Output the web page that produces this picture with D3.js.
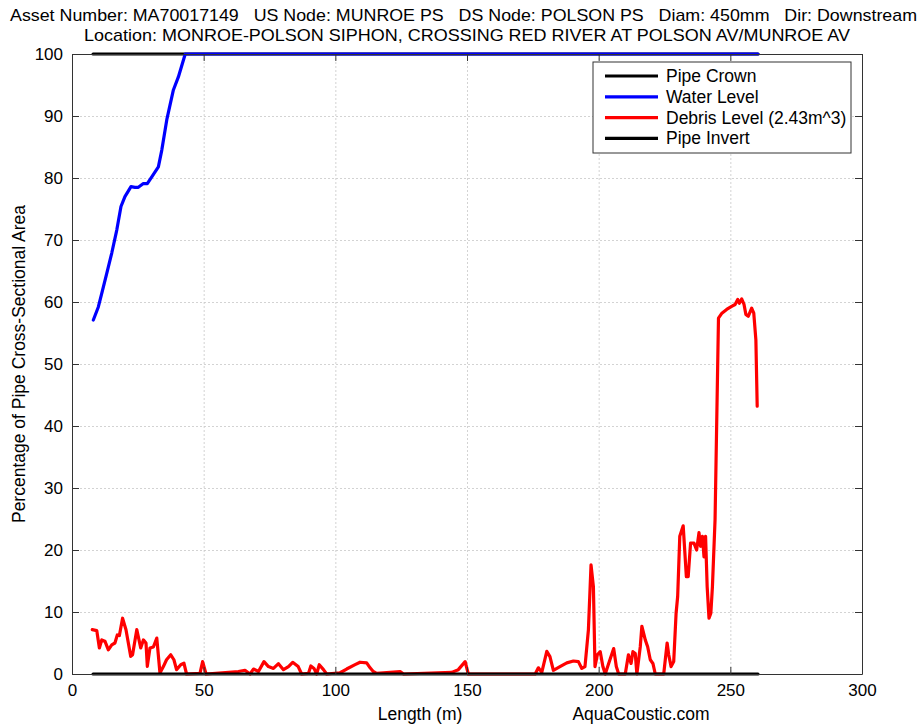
<!DOCTYPE html>
<html>
<head>
<meta charset="utf-8">
<script src="https://cdn.jsdelivr.net/npm/d3@7"></script>
<style>
  body { margin: 0; background: #fff; }
  svg text { font-family: "Liberation Sans", Arial, sans-serif; fill: #000; white-space: pre; }
  .grid line { stroke: #c8c8c8; stroke-dasharray: 2,2; stroke-width: 0.8; }
  .grid path { display: none; }
  .axis path, .axis line { stroke: #333; }
</style>
</head>
<body>
<div id="chart"></div>
<script>
var W = 923, H = 727;
var margin = {top: 54, right: 61, bottom: 53, left: 72};
var w = W - margin.left - margin.right;
var h = H - margin.top - margin.bottom;

var titleLines = ["Asset Number: MA70017149   US Node: MUNROE PS   DS Node: POLSON PS   Diam: 450mm   Dir: Downstream",
                  "Location: MONROE-POLSON SIPHON, CROSSING RED RIVER AT POLSON AV/MUNROE AV"];
var xTicks = [0, 50, 100, 150, 200, 250, 300];
var yTicks = [0, 10, 20, 30, 40, 50, 60, 70, 80, 90, 100];

// pipe extent
var pipeLength = [8, 260.5];
var pipeCrown = [100, 100];
var pipeInvert = [0, 0];

// water level
var waterLength = [8.1, 10, 11.3, 13.2, 15.1, 17, 18.6, 20.1, 22.4, 23.9, 25.2, 27.1, 28.6, 30.3, 32.8, 34.1, 36, 38.5, 40.4, 43, 260.5];
var waterLevel  = [57.1, 59.2, 61.4, 64.6, 67.9, 71.6, 75.4, 77, 78.6, 78.5, 78.5, 79.1, 79.1, 80.2, 81.8, 84.5, 89.4, 94.2, 96.3, 100, 100];

// debris level
var debrisLength = [7.7, 9.4, 10.4, 11.3, 12.5, 13.8, 15.1, 16.3, 17.2, 18.0, 19.2, 20.5, 22.3, 23.0, 24.6, 26.1, 27.1, 28.1, 28.6, 29.6,
  30.9, 32.2, 33.4, 34.7, 35.9, 37.5, 38.7, 39.7, 41.3, 42.5, 43.5, 48.6, 49.6, 50.9, 63.2, 65.7, 67.6, 68.9, 70.8, 72.9,
  74.6, 76.5, 78.4, 80.3, 82.2, 83.8, 85.9, 87.2, 89.8, 90.7, 91.9, 92.9, 93.9, 95.5, 96.7, 101.8, 104.3, 107.5, 109.4, 111.9,
  113.2, 114.4, 115.7, 124.6, 125.9, 144.2, 146.7, 149.3, 150.5, 175.9, 177.1, 178.4, 180.3, 181.5, 182.8, 185.3, 187.9, 190.4, 192.3, 193.6,
  194.8, 196.1, 197.1, 198.0, 198.6, 199.5, 200.6, 201.6, 202.5, 203.8, 205.7, 206.7, 207.6, 210.1, 211.3, 212.3, 213.0, 213.9, 214.5, 215.8,
  216.4, 217.7, 218.6, 219.6, 220.6, 221.5, 224.7, 226.0, 226.6, 227.5, 228.5, 229.4, 230.0, 230.8, 232.1, 233.3, 234.0, 234.9, 236.2, 237.2,
  238.1, 238.7, 239.4, 240.0, 240.6, 241.2, 241.9, 242.6, 243.2, 244.2, 245.5, 246.8, 248.6, 250.5, 251.8, 252.8, 253.4, 254.3, 255.2, 255.9,
  256.8, 258.1, 258.9, 259.7, 260.2];
var debrisLevel = [7.15, 7.0, 4.2, 5.5, 5.3, 3.9, 4.7, 5.0, 6.3, 6.2, 9.0, 7.15, 2.84, 3.1, 7.15, 4.2, 5.5, 5.0, 1.23, 4.2,
  4.35, 5.8, 0.16, 1.2, 2.3, 3.1, 2.3, 0.7, 1.5, 1.76, 0, 0.1, 2.0, 0, 0.4, 0.6, 0, 0.8, 0.4, 2.0,
  1.2, 0.9, 1.66, 0.7, 1.2, 1.88, 1.2, 0, 0.1, 1.3, 0.9, 0, 1.5, 0.7, 0, 0.2, 0.8, 1.5, 1.9, 1.8,
  1.0, 0.4, 0.1, 0.4, 0, 0.26, 0.7, 2.0, 0, 0, 1.0, 0.26, 3.65, 2.8, 0.6, 1.2, 1.8, 2.1, 2.0, 0.9,
  1.2, 7.1, 17.6, 14.1, 1.2, 3.1, 3.6, 1.2, 0, 1.7, 4.1, 1.2, 0, 0, 3.1, 1.7, 3.6, 3.3, 0, 4.4,
  7.7, 5.5, 4.4, 2.3, 1.7, 0, 0, 5.0, 3.1, 1.2, 2.0, 9.8, 12.5, 22.2, 23.9, 15.7, 15.7, 21.1, 21.1, 20.0,
  22.8, 20.6, 22.2, 18.9, 22.2, 14.1, 9.0, 9.8, 14.1, 24.9, 57.4, 58.2, 58.8, 59.3, 59.6, 60.4, 59.8, 60.5, 59.6, 58.0,
  57.7, 59.0, 58.2, 53.9, 43.2];

var legendNames = ["Pipe Crown", "Water Level", "Debris Level (2.43m^3)", "Pipe Invert"];
var legendColors = ["#000000", "#0000ff", "#ff0000", "#000000"];

var svg = d3.select("#chart").append("svg")
    .attr("width", W)
    .attr("height", H);

// titles
svg.append("text")
   .attr("x", 463.5).attr("y", 21)
   .attr("text-anchor", "middle")
   .attr("font-size", 17)
   .attr("textLength", 907).attr("lengthAdjust", "spacingAndGlyphs")
   .text(titleLines[0]);
svg.append("text")
   .attr("x", 467).attr("y", 41)
   .attr("text-anchor", "middle")
   .attr("font-size", 17)
   .attr("textLength", 766).attr("lengthAdjust", "spacingAndGlyphs")
   .text(titleLines[1]);

var g = svg.append("g").attr("transform", "translate(" + margin.left + "," + margin.top + ")");

var x = d3.scaleLinear().domain([0, 300]).range([0, w]);
var y = d3.scaleLinear().domain([0, 100]).range([h, 0]);

g.append("rect").attr("width", w).attr("height", h).attr("fill", "#fff");

// grid
g.append("g").attr("class", "grid")
  .call(d3.axisBottom(x).tickValues(xTicks).tickSize(h).tickFormat(""));
g.append("g").attr("class", "grid")
  .call(d3.axisLeft(y).tickValues(yTicks).tickSize(-w).tickFormat(""));

// lines
var line = d3.line().x(function(d) { return x(d[0]); }).y(function(d) { return y(d[1]); });
function draw(xs, ys, color) {
  g.append("path")
    .datum(d3.zip(xs, ys))
    .attr("fill", "none")
    .attr("stroke", color)
    .attr("stroke-width", 3.2)
    .attr("stroke-linejoin", "round")
    .attr("stroke-linecap", "round")
    .attr("d", line);
}
draw(pipeLength, pipeCrown, legendColors[0]);
draw(waterLength, waterLevel, legendColors[1]);
draw(debrisLength, debrisLevel, legendColors[2]);
draw(pipeLength, pipeInvert, legendColors[3]);

// axes with inward ticks, box on all sides
g.append("g").attr("class", "axis")
  .attr("transform", "translate(0," + h + ")")
  .call(d3.axisBottom(x).tickValues(xTicks).tickSize(-7).tickSizeOuter(0).tickPadding(10));
g.append("g").attr("class", "axis")
  .call(d3.axisLeft(y).tickValues(yTicks).tickSize(-7).tickSizeOuter(0).tickPadding(9));
g.append("g").attr("class", "axis")
  .call(d3.axisTop(x).tickValues(xTicks).tickSize(-7).tickSizeOuter(0).tickFormat(""));
g.append("g").attr("class", "axis")
  .attr("transform", "translate(" + w + ",0)")
  .call(d3.axisRight(y).tickValues(yTicks).tickSize(-7).tickSizeOuter(0).tickFormat(""));
g.selectAll(".axis text").attr("font-size", 17).attr("font-family", "Liberation Sans, Arial, sans-serif").attr("fill", "#000");

// axis labels
svg.append("text")
   .attr("x", 420).attr("y", 720)
   .attr("text-anchor", "middle").attr("font-size", 17.5)
   .text("Length (m)");
svg.append("text")
   .attr("x", 641).attr("y", 720)
   .attr("text-anchor", "middle").attr("font-size", 17.5)
   .text("AquaCoustic.com");
svg.append("text")
   .attr("transform", "translate(25," + (margin.top + h / 2) + ") rotate(-90)")
   .attr("text-anchor", "middle").attr("font-size", 17.5)
   .text("Percentage of Pipe Cross-Sectional Area");

// legend
var leg = svg.append("g").attr("transform", "translate(593,62)");
leg.append("rect")
   .attr("width", 258).attr("height", 91)
   .attr("fill", "#fff").attr("stroke", "#333").attr("stroke-width", 1);
legendNames.forEach(function(name, i) {
  var ly = 14 + i * 20.8;
  leg.append("line")
     .attr("x1", 12).attr("x2", 65).attr("y1", ly).attr("y2", ly)
     .attr("stroke", legendColors[i]).attr("stroke-width", 3.2);
  leg.append("text")
     .attr("x", 73).attr("y", ly + 6)
     .attr("font-size", 17.5)
     .text(name);
});
</script>
</body>
</html>
